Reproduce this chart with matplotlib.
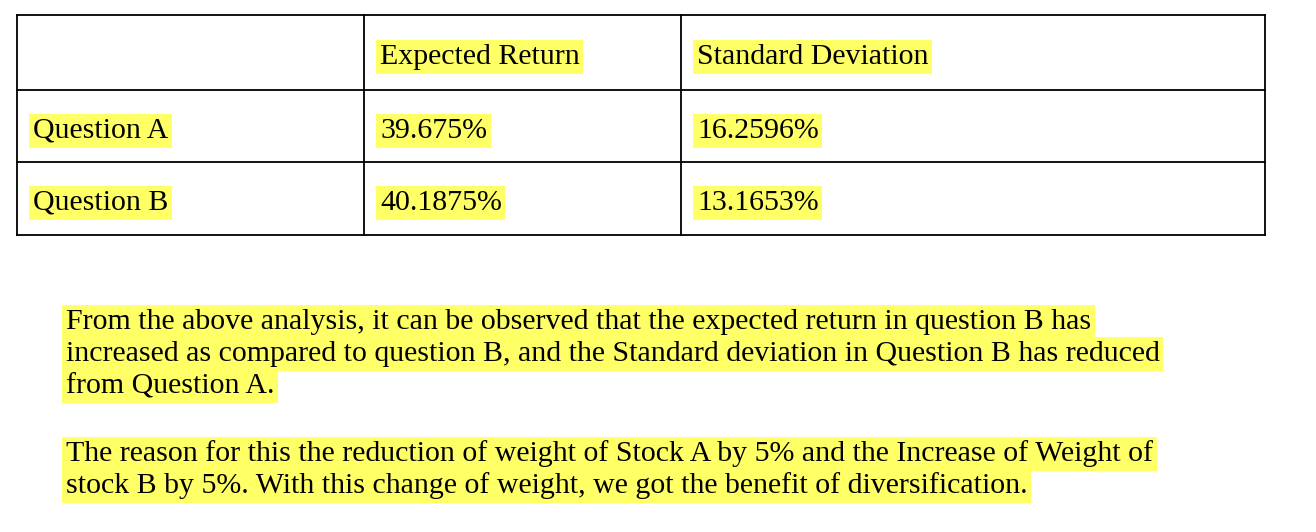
import matplotlib.pyplot as plt

headers = ["", "Expected Return", "Standard Deviation"]
rows = ["Question A", "Question B"]
expected_return = ["39.675%", "40.1875%"]
std_dev = ["16.2596%", "13.1653%"]

para1 = ["From the above analysis, it can be observed that the expected return in question B has",
         "increased as compared to question B, and the Standard deviation in Question B has reduced",
         "from Question A."]
para2 = ["The reason for this the reduction of weight of Stock A by 5% and the Increase of Weight of",
         "stock B by 5%. With this change of weight, we got the benefit of diversification."]

W, H = 1316, 532
fig = plt.figure(figsize=(W / 100, H / 100), dpi=100)
ax = fig.add_axes([0, 0, 1, 1])
ax.set_xlim(0, W)
ax.set_ylim(H, 0)
ax.axis("off")

font = dict(family="Liberation Serif", fontsize=21.5, va="center", ha="left")
hl = dict(facecolor="#FFFF66", edgecolor="none", pad=2.5)

# table grid
xs = [17, 364, 681, 1265]
ys = [15, 90, 162, 235]
for y in ys:
    ax.plot([xs[0], xs[-1]], [y, y], color="black", lw=1.3)
for x in xs:
    ax.plot([x, x], [ys[0], ys[-1]], color="black", lw=1.3)

col_x = [33, 380, 697]
for cx, h in zip(col_x, headers):
    if h:
        ax.text(cx, 57, h, bbox=hl, **font)

row_y = [131, 203]
for ry, name, er, sd in zip(row_y, rows, expected_return, std_dev):
    for cx, t in zip(col_x, [name, er, sd]):
        ax.text(cx, ry, t, bbox=hl, **font)

for i, line in enumerate(para1):
    ax.text(66, 322 + i * 32, line, bbox=hl, **font)
for i, line in enumerate(para2):
    ax.text(66, 454 + i * 32, line, bbox=hl, **font)

fig.savefig("out.png", dpi=100)
